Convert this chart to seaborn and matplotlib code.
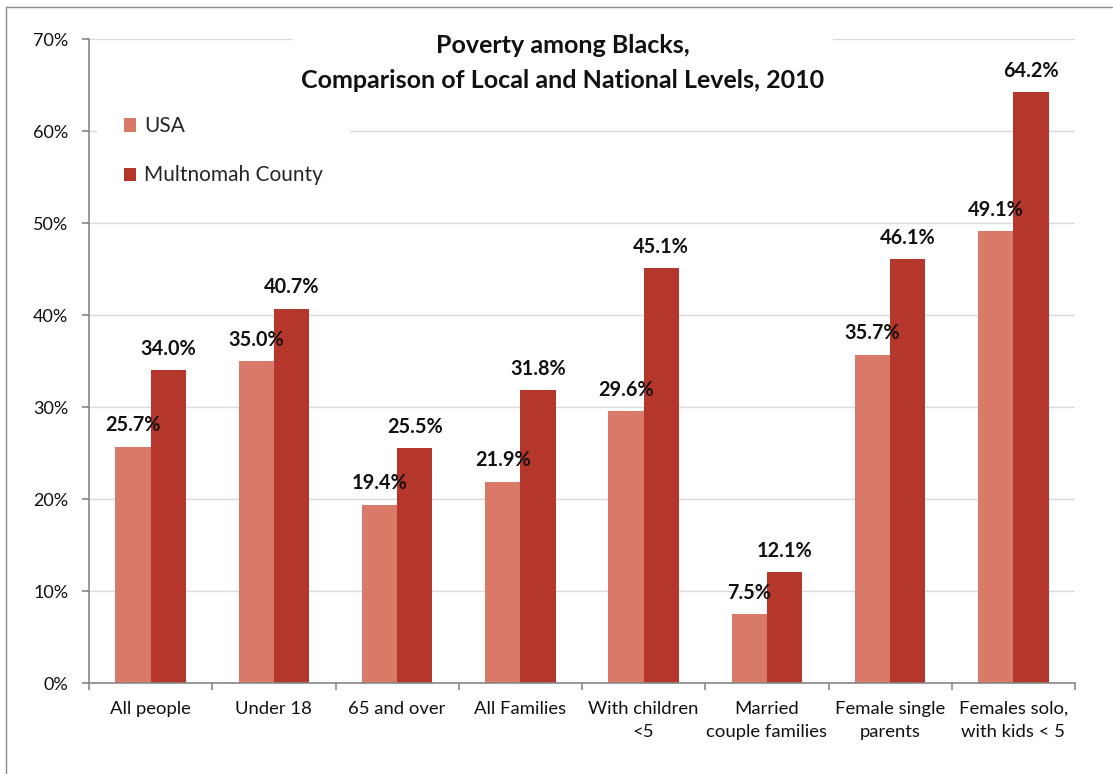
import matplotlib
matplotlib.use("Agg")
import matplotlib.pyplot as plt
from matplotlib.lines import Line2D
from matplotlib.patches import Patch
from matplotlib.ticker import FixedLocator, FuncFormatter
import numpy as np
import pandas as pd
import seaborn as sns

# Poverty rates (%) among Black residents, 2010
categories = ["All people", "Under 18", "65 and over", "All Families",
              "With children\n<5", "Married\ncouple families",
              "Female single\nparents", "Females solo,\nwith kids < 5"]
series_names = ["USA", "Multnomah County"]
usa = [25.7, 35.0, 19.4, 21.9, 29.6, 7.5, 35.7, 49.1]
multnomah = [34.0, 40.7, 25.5, 31.8, 45.1, 12.1, 46.1, 64.2]
y_ticks = [0, 10, 20, 30, 40, 50, 60, 70]

colors = ["#D97968", "#B5372B"]

df = pd.DataFrame({
    "group": categories * 2,
    "series": [series_names[0]] * len(usa) + [series_names[1]] * len(multnomah),
    "rate": usa + multnomah,
})

sns.set_theme(style="white")
plt.rcParams["font.family"] = ["Lato", "DejaVu Sans"]

W, H = 1113, 774
fig = plt.figure(figsize=(W / 100, H / 100), dpi=100)
ax = fig.add_axes([89 / W, (H - 683) / H, (1075 - 89) / W, (683 - 39) / H])

sns.barplot(data=df, x="group", y="rate", hue="series", order=categories,
            hue_order=series_names, palette=colors, width=0.57, gap=0,
            saturation=1, legend=False, ax=ax, zorder=2, edgecolor="none",
            linewidth=0, errorbar=None)

ax.set_xlim(-0.5, len(categories) - 0.5)
ax.set_ylim(0, 70)
ax.yaxis.set_major_locator(FixedLocator(y_ticks))
ax.yaxis.set_major_formatter(FuncFormatter(lambda v, p: f"{v:.0f}%"))
ax.grid(axis="y", color="#D9D9D9", linewidth=1.0, zorder=0)
ax.set_axisbelow(True)
ax.set_xlabel("")
ax.set_ylabel("")

for side in ["top", "right"]:
    ax.spines[side].set_visible(False)
for side in ["left", "bottom"]:
    ax.spines[side].set_color("#868686")
    ax.spines[side].set_linewidth(1.2)

ax.tick_params(axis="y", which="major", left=True, length=5, width=1.2,
               color="#868686", pad=10, labelsize=13, labelcolor="#111111")
ax.tick_params(axis="x", which="major", bottom=False, length=0, pad=13,
               labelsize=13.3, labelcolor="#111111")
ax.xaxis.set_minor_locator(FixedLocator(np.arange(-0.5, len(categories), 1.0)))
ax.tick_params(axis="x", which="minor", bottom=True, length=5, width=1.2,
               color="#868686")
for lbl in ax.get_xticklabels():
    lbl.set_linespacing(1.5)

# value labels on every bar
for cont in ax.containers:
    ax.bar_label(cont, fmt="%.1f%%", padding=8, fontsize=14.3,
                 fontweight="bold", color="#111111", zorder=5)

# title box sitting over the top gridline
ax.text(0.4805, 1.007, "Poverty among Blacks,\nComparison of Local and National Levels, 2010",
        transform=ax.transAxes, ha="center", va="top", fontsize=18,
        fontweight="bold", color="#111111", linespacing=1.6, zorder=6,
        bbox=dict(facecolor="white", edgecolor="none", pad=6))

# legend with white background over the gridline
handles = [Patch(facecolor=c, edgecolor="none") for c in colors]
leg = ax.legend(handles, series_names, loc="upper left",
                bbox_to_anchor=(0.008, 0.922), frameon=True, fontsize=15,
                handlelength=0.6, handleheight=0.6, handletextpad=0.35,
                labelspacing=1.4, borderpad=1.3, borderaxespad=0)
leg.get_frame().set_facecolor("white")
leg.get_frame().set_edgecolor("none")
leg.get_frame().set_alpha(1)
leg.set_zorder(6)

# outer chart frame
fig.add_artist(Line2D([5.5 / W, 5.5 / W], [0, 1 - 6.5 / H], transform=fig.transFigure,
                      color="#8C8C8C", linewidth=1.0))
fig.add_artist(Line2D([5.5 / W, 1], [1 - 6.5 / H, 1 - 6.5 / H], transform=fig.transFigure,
                      color="#8C8C8C", linewidth=1.0))

fig.savefig("out.png", dpi=100, facecolor="white")
